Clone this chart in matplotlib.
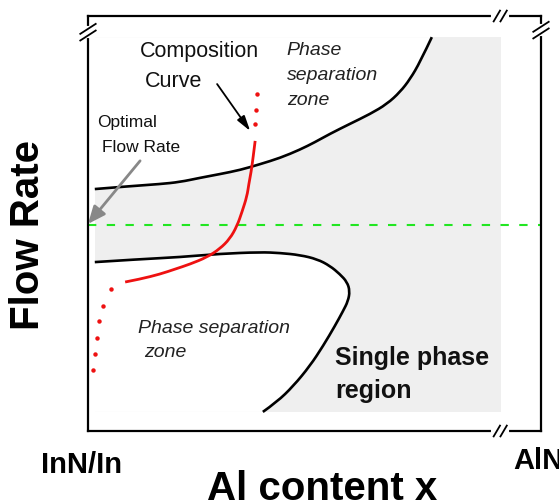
import numpy as np
import matplotlib.pyplot as plt
from matplotlib.path import Path
from matplotlib.patches import PathPatch

plt.rcParams["font.family"] = ["Liberation Sans", "DejaVu Sans"]

# boundary of the upper phase-separation zone (x = Al content, y = flow rate, 0..100)
upper_x = [1.5, 9.3, 15.9, 20.3, 24.7, 29.1, 33.6, 38.0, 42.4, 46.8, 50.1, 53.4,
           57.8, 62.3, 66.0, 68.9, 71.1, 73.3, 75.9]
upper_y = [58.3, 59.0, 59.5, 60.0, 61.0, 61.9, 62.9, 64.3, 65.8, 67.8, 69.6, 71.6,
           74.0, 76.4, 78.8, 81.7, 84.8, 88.9, 94.9]

# boundary of the lower phase-separation lobe
lower_x = [1.5, 11.5, 20.3, 29.1, 38.0, 42.4, 46.8, 50.6, 53.4, 55.6, 57.2, 57.8,
           57.4, 56.3, 54.5, 51.9, 49.0, 45.3, 41.7, 38.6]
lower_y = [40.7, 41.4, 41.9, 42.7, 43.1, 42.9, 42.4, 41.4, 39.8, 37.8, 35.9, 33.7,
           31.3, 28.9, 25.3, 20.5, 15.7, 10.8, 7.0, 4.6]

# composition curve (solid part)
comp_x = [36.9, 36.4, 36.0, 35.5, 35.1, 34.0, 32.9, 31.3, 29.1, 26.3, 22.5, 19.2,
          15.9, 11.5, 8.2]
comp_y = [69.9, 65.5, 62.4, 59.5, 56.6, 52.8, 49.4, 46.3, 43.9, 41.9, 40.2, 39.0,
          37.8, 36.6, 35.9]

# composition curve (dotted continuation)
dots_top_x = [37.3, 37.1, 36.9]
dots_top_y = [81.2, 77.3, 73.9]
dots_bot_x = [5.1, 3.3, 2.4, 2.0, 1.5, 1.1]
dots_bot_y = [34.2, 30.1, 26.5, 22.4, 18.6, 14.7]

optimal_flow = 49.6

# single phase region extent
grey_x = (1.5, 91.2)
grey_y = (4.6, 94.9)


def smooth_verts(xs, ys):
    # quadratic bezier through midpoints, using the read points as control points
    pts = np.column_stack([xs, ys])
    verts = [pts[0]]
    codes = [Path.MOVETO]
    for i in range(1, len(pts) - 1):
        end = (pts[i] + pts[i + 1]) / 2 if i < len(pts) - 2 else pts[i + 1]
        verts += [pts[i], end]
        codes += [Path.CURVE3, Path.CURVE3]
    return verts, codes


def curve_patch(xs, ys, **kw):
    verts, codes = smooth_verts(xs, ys)
    return PathPatch(Path(verts, codes), fill=False, capstyle="butt", **kw)


def zone_patch(xs, ys, corner, **kw):
    verts, codes = smooth_verts(xs, ys)
    verts = verts + [corner, verts[0]]
    codes = codes + [Path.LINETO, Path.CLOSEPOLY]
    return PathPatch(Path(verts, codes), lw=0, **kw)


fig = plt.figure(figsize=(5.59, 5.02), dpi=100)
ax = fig.add_axes([88 / 559, 70 / 502, 453 / 559, 415 / 502])
ax.set_xlim(0, 100)
ax.set_ylim(0, 100)
ax.set_xticks([])
ax.set_yticks([])
for sp in ax.spines.values():
    sp.set_linewidth(1.6)
    sp.set_color("black")

# grey single-phase area, then cut out the phase separation zones
ax.fill_between(grey_x, grey_y[0], grey_y[1], color="#efefef", lw=0, zorder=1)
ax.add_patch(zone_patch(upper_x, upper_y, (grey_x[0], grey_y[1]), fc="white", zorder=1.5))
ax.add_patch(zone_patch(lower_x, lower_y, (grey_x[0], grey_y[0]), fc="white", zorder=1.5))

ax.add_patch(curve_patch(upper_x, upper_y, ec="black", lw=1.9, zorder=3))
ax.add_patch(curve_patch(lower_x, lower_y, ec="black", lw=1.9, zorder=3))

ax.axhline(optimal_flow, color="#22e622", lw=1.5, dashes=(4, 5), zorder=2)

ax.add_patch(curve_patch(comp_x, comp_y, ec="#ee1111", lw=2.0, zorder=4))
ax.plot(dots_top_x, dots_top_y, "o", color="#ee1111", ms=3.2, mew=0, zorder=4)
ax.plot(dots_bot_x, dots_bot_y, "o", color="#ee1111", ms=3.2, mew=0, zorder=4)

# arrows
ax.annotate("", xy=(0.0, 49.9), xytext=(11.5, 65.1),
            arrowprops=dict(arrowstyle="-|>,head_length=0.7,head_width=0.3",
                            color="#888888", lw=2.0, shrinkA=0, shrinkB=0,
                            mutation_scale=15), zorder=5)
ax.annotate("", xy=(35.8, 72.3), xytext=(28.5, 83.6),
            arrowprops=dict(arrowstyle="-|>,head_length=0.7,head_width=0.2",
                            color="black", lw=1.3, shrinkA=0, shrinkB=0,
                            mutation_scale=13), zorder=5)

# axis break marks: (x, y, along-horizontal-edge?)
BREAKS = [(91.0, 100.0, True), (91.0, 0.0, True), (0.0, 96.1, False), (100.0, 96.6, False)]
for bx, by, horiz in BREAKS:
    if horiz:
        ax.plot([bx - 1.6, bx + 1.6], [by, by], color="white", lw=3, clip_on=False, zorder=6)
        for off in (-0.75, 0.75):
            ax.plot([bx + off - 0.7, bx + off + 0.7], [by - 1.3, by + 1.3],
                    color="black", lw=1.3, clip_on=False, zorder=7)
    else:
        ax.plot([bx, bx], [by - 1.0, by + 1.0], color="white", lw=3, clip_on=False, zorder=6)
        for off in (-0.8, 0.8):
            ax.plot([bx - 1.7, bx + 1.7], [by + off - 1.2, by + off + 1.2],
                    color="black", lw=1.3, clip_on=False, zorder=7)

# annotations inside the plot
ax.text(24.5, 90.4, "Composition", fontsize=15.5, ha="center", va="baseline", color="#111111")
ax.text(18.8, 83.1, "Curve", fontsize=15.5, ha="center", va="baseline", color="#111111")
ax.text(8.6, 73.5, "Optimal", fontsize=12.5, ha="center", va="baseline", color="#111111")
ax.text(11.7, 67.5, "Flow Rate", fontsize=12.5, ha="center", va="baseline", color="#111111")
for txt, yy in [("Phase", 90.8), ("separation", 84.8), ("zone", 78.8)]:
    ax.text(43.9, yy, txt, fontsize=14, style="italic", ha="left", va="baseline", color="#222222")
ax.text(11.0, 23.9, "Phase separation", fontsize=14, style="italic", ha="left", va="baseline", color="#222222")
ax.text(12.4, 18.1, "zone", fontsize=14, style="italic", ha="left", va="baseline", color="#222222")
ax.text(54.5, 16.1, "Single phase", fontsize=18, fontweight="bold", ha="left", va="baseline", color="#111111")
ax.text(54.5, 8.2, "region", fontsize=18, fontweight="bold", ha="left", va="baseline", color="#111111")

# outer labels
ax.text(-13.2, 47.5, "Flow Rate", fontsize=29, fontweight="bold", rotation=90,
        ha="center", va="center", clip_on=False)
ax.text(-1.5, -9.9, "InN/In", fontsize=21, fontweight="bold", ha="center", va="baseline", clip_on=False)
ax.text(93.8, -8.9, "AlN", fontsize=21, fontweight="bold", ha="left", va="baseline", clip_on=False)
ax.text(51.7, -16.4, "Al content x", fontsize=29, fontweight="bold", ha="center", va="baseline", clip_on=False)

fig.savefig("out.png", dpi=100)
